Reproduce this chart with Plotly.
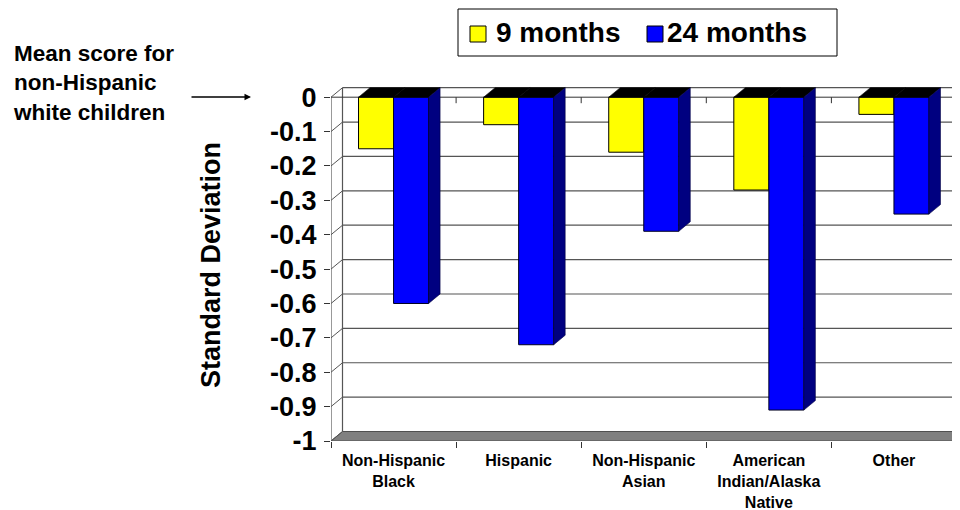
import plotly.graph_objects as go

# ---------------- data ----------------
categories = ["Non-Hispanic<br>Black", "Hispanic", "Non-Hispanic<br>Asian",
              "American<br>Indian/Alaska<br>Native", "Other"]
months_9 = [-0.15, -0.08, -0.16, -0.27, -0.05]
months_24 = [-0.60, -0.72, -0.39, -0.91, -0.34]
y_ticks = [0, -0.1, -0.2, -0.3, -0.4, -0.5, -0.6, -0.7, -0.8, -0.9, -1]
y_ticktext = ["0", "-0.1", "-0.2", "-0.3", "-0.4", "-0.5", "-0.6", "-0.7", "-0.8", "-0.9", "-1"]
series_names = ["9 months", "24 months"]

# ---------------- layout geometry ----------------
OFF = 8                          # page body margin in the browser
FW, FH = 960 - OFF, 510 - OFF
ML, MR, MT, MB = 331 - OFF, 0, 80 - OFF, 69
PW, PH = FW - ML - MR, FH - MT - MB
XMIN = -0.5
XPX = 125.1                      # pixels per category
XMAX = XMIN + PW / XPX
YMIN = -1.0
YPX = 343.8                      # pixels per unit
YMAX = YMIN + PH / YPX
DX = 11.5 / XPX                  # 3-D depth offset in data units
DY = 9.5 / YPX
BW = 0.28                        # bar width

FONT = "Liberation Sans, Arial, sans-serif"
YELLOW, BLUE, NAVY = "#FFFF00", "#0000FF", "#000080"
GRID = "#555555"

def px_x(px):
    return (px - OFF - ML) / PW

def px_y(py):
    return (FH - MB - (py - OFF)) / PH

xs = list(range(len(categories)))
bounds = [i - 0.5 for i in range(len(categories) + 1)]

fig = go.Figure()

# front faces of bars
fig.add_trace(go.Bar(x=xs, y=months_9, width=BW, offset=-BW, name=series_names[0],
                     marker=dict(color=YELLOW, line=dict(color="#000000", width=1)),
                     showlegend=False))
fig.add_trace(go.Bar(x=xs, y=months_24, width=BW, offset=0, name=series_names[1],
                     marker=dict(color=BLUE, line=dict(color="#000020", width=1)),
                     showlegend=False))

def poly(px, py, color, lc="#000000"):
    fig.add_trace(go.Scatter(x=px + [px[0]], y=py + [py[0]], mode="lines", fill="toself",
                             fillcolor=color, line=dict(color=lc, width=0.6),
                             hoverinfo="skip", showlegend=False))

# 3-D top and side faces
for i in xs:
    x0, x1 = i - BW, i
    poly([x0, x1, x1 + DX, x0 + DX], [0, 0, DY, DY], "#000000")
    x0, x1 = i, i + BW
    v = months_24[i]
    poly([x0, x1, x1 + DX, x0 + DX], [0, 0, DY, DY], "#000000")
    poly([x1, x1 + DX, x1 + DX, x1], [0, DY, v + DY, v], NAVY, "#000040")

shapes = []
# floor
shapes.append(dict(type="path", xref="x", yref="y", layer="below",
                   path=f"M{XMIN},{YMIN} L{XMIN + 5},{YMIN} L{XMIN + 5 + DX},{YMIN + DY} "
                        f"L{XMIN + DX},{YMIN + DY} Z",
                   fillcolor="#808080", line=dict(color="#505050", width=1)))
# back wall gridlines and side wall diagonals
for v in y_ticks:
    if v > YMIN:
        shapes.append(dict(type="line", xref="x", yref="y", layer="below",
                           x0=XMIN + DX, x1=XMIN + 5 + DX, y0=v + DY, y1=v + DY,
                           line=dict(color=GRID, width=1.2)))
    shapes.append(dict(type="line", xref="x", yref="y", layer="below",
                       x0=XMIN, x1=XMIN + DX, y0=v, y1=v + DY,
                       line=dict(color=GRID, width=1)))
# back wall left edge and front value axis
shapes.append(dict(type="line", xref="x", yref="y", layer="below",
                   x0=XMIN + DX, x1=XMIN + DX, y0=DY, y1=YMIN + DY,
                   line=dict(color=GRID, width=1.2)))
shapes.append(dict(type="line", xref="x", yref="y", layer="below",
                   x0=XMIN, x1=XMIN, y0=0, y1=YMIN,
                   line=dict(color=GRID, width=1.2)))
# front zero category axis with little ticks
shapes.append(dict(type="line", xref="x", yref="y", layer="below",
                   x0=XMIN, x1=XMIN + 5, y0=0, y1=0,
                   line=dict(color="#333333", width=1)))
for b in bounds[1:]:
    shapes.append(dict(type="line", xref="x", yref="y", layer="below",
                       x0=b, x1=b, y0=0, y1=-6 / YPX,
                       line=dict(color="#333333", width=1)))

# manual legend
shapes.append(dict(type="rect", xref="paper", yref="paper",
                   x0=px_x(458), x1=px_x(837), y0=px_y(56), y1=px_y(9),
                   line=dict(color="#000000", width=1), fillcolor="#FFFFFF"))
shapes.append(dict(type="rect", xref="paper", yref="paper",
                   x0=px_x(470), x1=px_x(486), y0=px_y(42), y1=px_y(26),
                   line=dict(color="#000000", width=1), fillcolor=YELLOW))
shapes.append(dict(type="rect", xref="paper", yref="paper",
                   x0=px_x(647), x1=px_x(663), y0=px_y(42), y1=px_y(26),
                   line=dict(color="#000000", width=1), fillcolor=BLUE))

annotations = [
    dict(text=series_names[0], xref="paper", yref="paper", x=px_x(494), y=px_y(33),
         xanchor="left", yanchor="middle", showarrow=False,
         font=dict(family=FONT, size=28, color="#000000", weight="bold")),
    dict(text=series_names[1], xref="paper", yref="paper", x=px_x(665), y=px_y(33),
         xanchor="left", yanchor="middle", showarrow=False,
         font=dict(family=FONT, size=28, color="#000000", weight="bold")),
    dict(text="Mean score for<br>non-Hispanic<br>white children", xref="paper", yref="paper",
         x=px_x(11), y=px_y(83), xanchor="left", yanchor="middle", align="left",
         showarrow=False, font=dict(family=FONT, size=22.5, color="#000000", weight="bold")),
    dict(text="", xref="paper", yref="paper", x=px_x(251), y=px_y(97),
         ax=-61, ay=0, showarrow=True, arrowhead=2, arrowsize=1, arrowwidth=1.3,
         arrowcolor="#000000"),
    dict(text="Standard Deviation", xref="paper", yref="paper", x=px_x(211), y=px_y(265),
         xanchor="center", yanchor="middle", textangle=-90, showarrow=False,
         font=dict(family=FONT, size=27, color="#000000", weight="bold")),
]

fig.update_layout(
    template="none",
    width=FW, height=FH,
    margin=dict(l=ML, r=MR, t=MT, b=MB, pad=0),
    paper_bgcolor="#FFFFFF", plot_bgcolor="#FFFFFF",
    barmode="overlay",
    showlegend=False,
    shapes=shapes,
    annotations=annotations,
    xaxis=dict(range=[XMIN, XMAX], tickmode="array", tickvals=xs, ticktext=categories,
               ticks="", showgrid=False, zeroline=False, showline=False, automargin=False,
               tickfont=dict(family=FONT, size=16, color="#000000", weight="bold"),
               ticklabelstandoff=8,
               minor=dict(tickmode="array", tickvals=bounds, ticks="outside", ticklen=6,
                          tickcolor="#333333", tickwidth=1, showgrid=False)),
    yaxis=dict(range=[YMIN, YMAX], tickmode="array", tickvals=y_ticks, ticktext=y_ticktext,
               ticks="outside", ticklen=6, tickcolor="#333333", tickwidth=1,
               showgrid=False, zeroline=False, showline=False, automargin=False,
               ticklabelstandoff=2,
               tickfont=dict(family=FONT, size=27, color="#000000", weight="bold")),
)

fig.write_html("out.html")
